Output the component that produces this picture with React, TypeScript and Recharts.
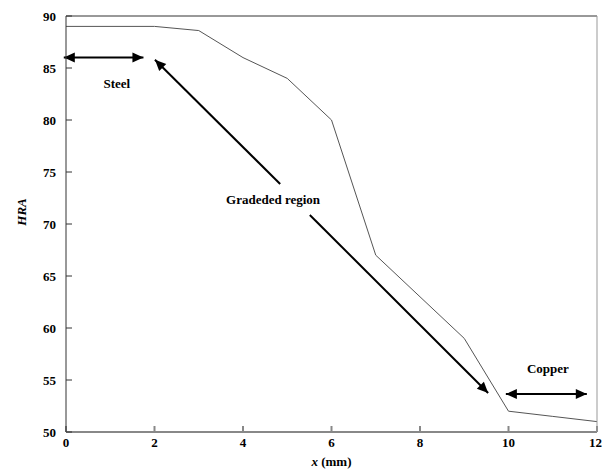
import { LineChart, Line, XAxis, YAxis, ReferenceLine, ReferenceDot } from 'recharts';

const xValues = [0, 2, 3, 4, 5, 6, 7, 8, 9, 10, 11, 12];
const hraValues = [89, 89, 88.6, 86, 84, 80, 67, 63, 59, 52, 51.5, 51];
const xTicks = [0, 2, 4, 6, 8, 10, 12];
const yTicks = [50, 55, 60, 65, 70, 75, 80, 85, 90];

// annotation arrows in data units: [x1, y1, x2, y2]
const steelArrow = [-0.05, 86, 1.75, 86];
const copperArrow = [9.94, 53.65, 11.77, 53.65];
const gradedUpper = [2.01, 85.8, 4.84, 73.85];
const gradedLower = [5.51, 70.87, 9.54, 53.75];

// labels: [x, y, text]
const labels: [number, number, string][] = [
  [1.15, 83.5, 'Steel'],
  [4.68, 72.4, 'Gradeded region'],
  [10.89, 56.15, 'Copper'],
];

const data = xValues.map((x, i) => ({ x, hra: hraValues[i] }));

const FONT = '"Liberation Serif", "Times New Roman", serif';

function head(tx: number, ty: number, fx: number, fy: number) {
  const dx = tx - fx;
  const dy = ty - fy;
  const len = Math.sqrt(dx * dx + dy * dy) || 1;
  const ux = dx / len;
  const uy = dy / len;
  const L = 11;
  const W = 5;
  const bx = tx - ux * L;
  const by = ty - uy * L;
  return `${tx},${ty} ${bx - uy * W},${by + ux * W} ${bx + uy * W},${by - ux * W}`;
}

function arrowShape(start: boolean, end: boolean) {
  return (props: any) => {
    const { x1, y1, x2, y2 } = props;
    if (x1 == null) return <g />;
    return (
      <g>
        <line x1={x1} y1={y1} x2={x2} y2={y2} stroke="#000" strokeWidth={2} />
        {start && <polygon points={head(x1, y1, x2, y2)} fill="#000" />}
        {end && <polygon points={head(x2, y2, x1, y1)} fill="#000" />}
      </g>
    );
  };
}

function seg(a: number[]) {
  return [
    { x: a[0], y: a[1] },
    { x: a[2], y: a[3] },
  ];
}

const tickStyle = { fontSize: 13, fontWeight: 700, fontFamily: FONT, fill: '#000' };

export default function App() {
  return (
    <div style={{ position: 'absolute', left: 0, top: 0, background: '#fff' }}>
      <LineChart width={602} height={472} data={data} margin={{ top: 0, right: 0, bottom: 0, left: 0 }}>
        <XAxis
          dataKey="x"
          type="number"
          domain={[0, 12]}
          ticks={xTicks}
          height={40}
          tickSize={-6}
          tickMargin={12}
          stroke="#888"
          strokeWidth={2}
          tick={tickStyle}
          label={(p: any) => {
            const vb = p.viewBox;
            return (
              <text x={vb.x + vb.width / 2} y={466} textAnchor="middle" fontFamily={FONT} fontSize={13} fontWeight={700} fill="#000">
                <tspan fontStyle="italic">x</tspan> (mm)
              </text>
            );
          }}
        />
        <XAxis
          xAxisId="top"
          orientation="top"
          dataKey="x"
          type="number"
          domain={[0, 12]}
          ticks={xTicks}
          height={16}
          tickSize={-6}
          tick={false}
          stroke="#333"
        />
        <YAxis
          type="number"
          domain={[50, 90]}
          ticks={yTicks}
          width={66}
          tickSize={-6}
          tickMargin={16}
          stroke="#333"
          tick={tickStyle}
          label={() => (
            <text
              x={21}
              y={212}
              transform="rotate(-90 21 212)"
              textAnchor="middle"
              dominantBaseline="central"
              fontFamily={FONT}
              fontSize={13}
              fontWeight={700}
              fontStyle="italic"
              fill="#000"
            >
              HRA
            </text>
          )}
        />
        <YAxis
          yAxisId="right"
          orientation="right"
          type="number"
          domain={[50, 90]}
          ticks={yTicks}
          width={5}
          tickSize={-6}
          tick={false}
          stroke="#999"
        />
        <Line
          type="linear"
          dataKey="hra"
          stroke="#555"
          strokeWidth={1}
          dot={false}
          activeDot={false}
          isAnimationActive={false}
        />
        <ReferenceLine segment={seg(steelArrow)} shape={arrowShape(true, true)} ifOverflow="visible" />
        <ReferenceLine segment={seg(copperArrow)} shape={arrowShape(true, true)} ifOverflow="visible" />
        <ReferenceLine segment={seg(gradedUpper)} shape={arrowShape(true, false)} ifOverflow="visible" />
        <ReferenceLine segment={seg(gradedLower)} shape={arrowShape(false, true)} ifOverflow="visible" />
        {labels.map(([lx, ly, text]) => (
          <ReferenceDot
            key={text}
            x={lx}
            y={ly}
            r={0}
            ifOverflow="visible"
            shape={(p: any) => (
              <text
                x={p.cx}
                y={p.cy}
                textAnchor="middle"
                dominantBaseline="central"
                fontFamily={FONT}
                fontSize={13}
                fontWeight={700}
                fill="#000"
              >
                {text}
              </text>
            )}
          />
        ))}
      </LineChart>
    </div>
  );
}
